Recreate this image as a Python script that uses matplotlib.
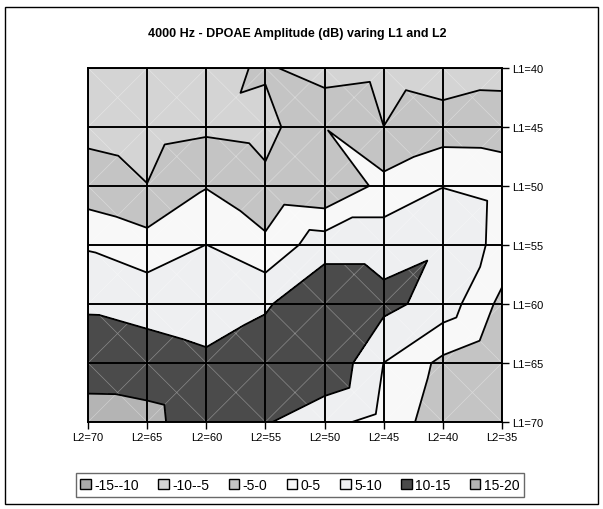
import numpy as np
import matplotlib
matplotlib.use("Agg")
import matplotlib.pyplot as plt
import matplotlib.tri as mtri
from matplotlib.patches import Patch, Rectangle

plt.rcParams['font.family'] = ['Liberation Sans', 'DejaVu Sans']

l2_vals = [70, 65, 60, 55, 50, 45, 40, 35]
l1_vals = [40, 45, 50, 55, 60, 65, 70]

# DPOAE amplitude (dB): one row per L1 level, one column per L2 level
amp_l1_40 = [-8.0, -8.0, -6.8, -4.3, -7.5, -6.5, -8.0, -6.5]
amp_l1_45 = [-6.2, -7.0, -5.96, -6.8, -0.1, -4.98, -2.5, -2.65]
amp_l1_50 = [-2.9, -4.9, -0.25, -3.7, -4.9, 1.6, 4.85, 3.5]
amp_l1_55 = [4.5, 2.0, 5.05, 1.1, 8.0, 8.0, 9.5, 3.3]
amp_l1_60 = [9.5, 8.4, 7.0, 9.4, 14.2, 11.4, 7.9, -1.3]
amp_l1_65 = [12.3, 12.2, 11.1, 12.9, 14.7, 4.95, -1.2, -4.8]
amp_l1_70 = [17.5, 16.6, 11.6, 10.5, 6.3, 3.5, -3.1, -3.0]

levels = [-15, -10, -5, 0, 5, 10, 15, 20]
band_names = ['-15--10', '-10--5', '-5-0', '0-5', '5-10', '10-15', '15-20']
band_colors = ['#aaaaaa', '#d4d4d4', '#c4c4c4', '#f8f8f8', '#eeeff1', '#4b4b4b', '#b4b4b4']

amp = np.array([amp_l1_40, amp_l1_45, amp_l1_50, amp_l1_55,
                amp_l1_60, amp_l1_65, amp_l1_70])
nrow, ncol = amp.shape

# surface mesh: every grid cell is cut into four triangles around its centre,
# the centre taking the higher of the two diagonal averages
xs, ys, zs = [], [], []
for r in range(nrow):
    for c in range(ncol):
        xs.append(c)
        ys.append(r)
        zs.append(amp[r, c])
tris = []
for r in range(nrow - 1):
    for c in range(ncol - 1):
        k = len(xs)
        xs.append(c + 0.5)
        ys.append(r + 0.5)
        diag1 = (amp[r, c] + amp[r + 1, c + 1]) / 2
        diag2 = (amp[r, c + 1] + amp[r + 1, c]) / 2
        zs.append(max(diag1, diag2))
        a = r * ncol + c
        b = a + 1
        d = a + ncol
        e = d + 1
        tris += [[a, b, k], [b, e, k], [e, d, k], [d, a, k]]
tri = mtri.Triangulation(xs, ys, tris)

fig = plt.figure(figsize=(6.03, 5.10), dpi=100)
ax = fig.add_axes([88/603, 1 - 423/510, 414/603, 354/510])

ax.tricontourf(tri, zs, levels=levels, colors=band_colors)
ax.triplot(tri, color='white', lw=0.5, alpha=0.35)
ax.tricontour(tri, zs, levels=levels, colors='black', linewidths=1.3,
              linestyles='solid')
for c in range(ncol):
    ax.axvline(c, color='black', lw=1.4)
for r in range(nrow):
    ax.axhline(r, color='black', lw=1.4)

ax.set_xlim(0, ncol - 1)
ax.set_ylim(nrow - 1, 0)
ax.set_xticks(range(ncol))
ax.set_xticklabels(['L2=%d' % v for v in l2_vals])
ax.set_yticks(range(nrow))
ax.set_yticklabels(['L1=%d' % v for v in l1_vals])
ax.yaxis.tick_right()
ax.tick_params(axis='both', length=5, width=1, labelsize=8, pad=2, direction='out')
for s in ax.spines.values():
    s.set_linewidth(1.4)

fig.text(297/603, 1 - 34/510, '4000 Hz - DPOAE Amplitude (dB) varing L1 and L2',
         ha='center', va='center', fontsize=9, fontweight='bold')

handles = [Patch(facecolor=col, edgecolor='black', lw=1) for col in band_colors]
leg = fig.legend(handles, band_names, ncol=7, loc='center',
                 bbox_to_anchor=(300/603, 1 - 486/510), frameon=True, fancybox=False,
                 edgecolor='#444444', fontsize=10, handlelength=0.75, handleheight=0.75,
                 handletextpad=0.25, columnspacing=1.4, borderpad=0.35)
leg.get_frame().set_linewidth(1.0)

fig.patches.append(Rectangle((5/603, 5/510), 593/603, 497/510, transform=fig.transFigure,
                             fill=False, ec='black', lw=1))

fig.savefig('out.png', dpi=100)
